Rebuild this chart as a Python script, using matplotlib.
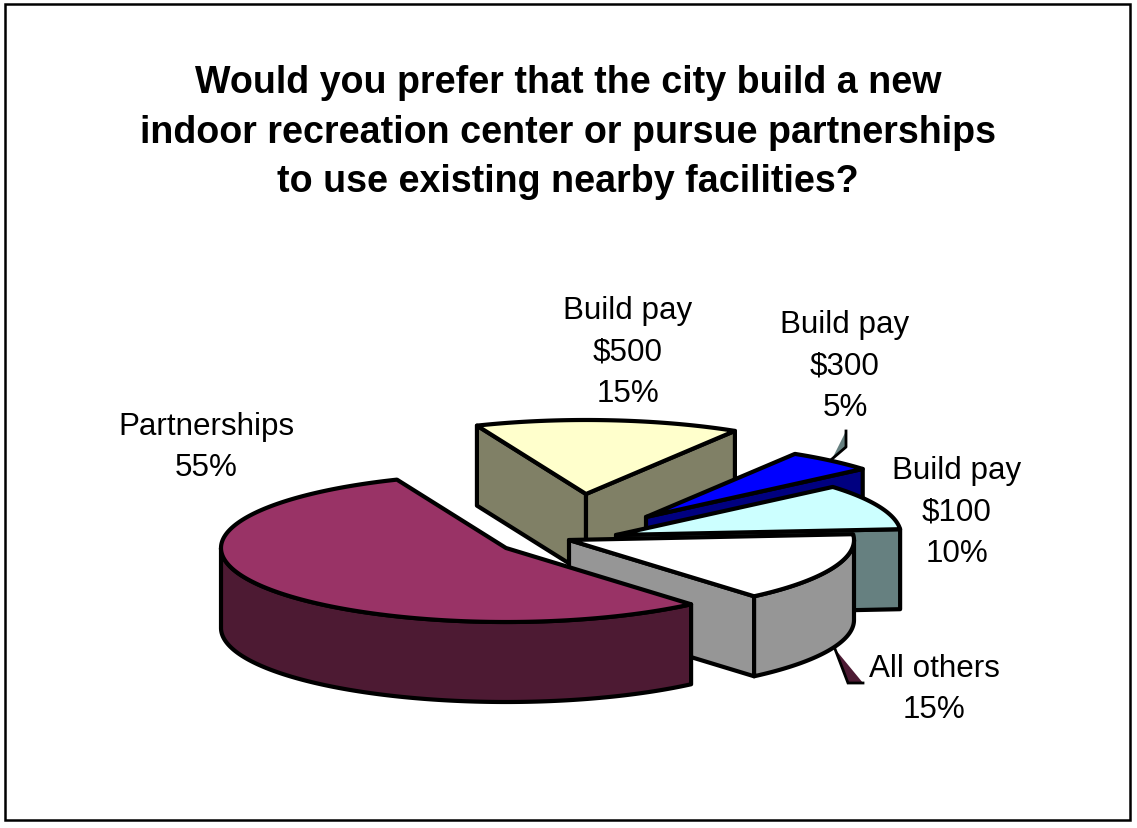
import numpy as np
import matplotlib
matplotlib.use("Agg")
import matplotlib.pyplot as plt
from matplotlib.patches import Polygon, Rectangle

plt.rcParams['font.family'] = ['Liberation Sans', 'DejaVu Sans']

# chart values, going counter-clockwise from the back of the pie
categories = ["Partnerships", "All others", "Build pay $100", "Build pay $300", "Build pay $500"]
values = [55, 15, 10, 5, 15]
title_lines = [
    "Would you prefer that the city build a new",
    "indoor recreation center or pursue partnerships",
    "to use existing nearby facilities?",
]

# styles
top_colors = ["#993366", "#FFFFFF", "#CCFFFF", "#0000FF", "#FFFFCC"]
side_colors = ["#4D1A33", "#969696", "#668080", "#000080", "#808066"]
explode = [(1, 0), (64, -8), (111, -13), (141, -31), (81, -54)]
draw_order = [4, 3, 2, 1, 0]
label_pos = [(206, 435), (934, 677), (957, 479), (845, 333), (628, 319)]

START_ANGLE = 112.5
CENTER = (505, 549)
RX, RY = 285, 74
DEPTH = 80
LW = 3.0

fig = plt.figure(figsize=(11.37, 8.29), dpi=100)
ax = fig.add_axes([0, 0, 1, 1])
ax.set_xlim(0, 1137)
ax.set_ylim(829, 0)
ax.axis('off')


def rim(cx, cy, a0, a1):
    t = np.radians(np.linspace(a0, a1, max(2, int(abs(a1 - a0)) * 2)))
    return np.column_stack([cx + RX * np.cos(t), cy - RY * np.sin(t)])


def extrude(pts):
    low = pts[::-1] + [0, DEPTH]
    return np.vstack([pts, low])


def draw_slice(i, a0, a1):
    cx = CENTER[0] + explode[i][0]
    cy = CENTER[1] + explode[i][1]
    apex = np.array([[cx, cy]])
    style = dict(facecolor=side_colors[i], edgecolor='black', linewidth=LW, joinstyle='round')

    # radial faces that look toward the viewer
    if np.cos(np.radians(a1)) < 0:
        ax.add_patch(Polygon(extrude(np.vstack([apex, rim(cx, cy, a1, a1)[:1]])), **style))
    if np.cos(np.radians(a0)) > 0:
        ax.add_patch(Polygon(extrude(np.vstack([apex, rim(cx, cy, a0, a0)[:1]])), **style))

    # outer wall, only the lower half of the ellipse shows
    lo, hi = max(a0, 180), min(a1, 360)
    if hi > lo:
        ax.add_patch(Polygon(extrude(rim(cx, cy, lo, hi)), **style))

    top = np.vstack([apex, rim(cx, cy, a0, a1)])
    ax.add_patch(Polygon(top, facecolor=top_colors[i], edgecolor='black', linewidth=LW, joinstyle='round'))


angles = START_ANGLE + np.concatenate([[0], np.cumsum(values)]) * 360 / sum(values)
for i in draw_order:
    draw_slice(i, angles[i], angles[i + 1])

# leader lines of the two small labels
ax.add_patch(Polygon([(846, 432), (846, 448), (832, 460)], facecolor="#668080", edgecolor='none'))
ax.plot([846, 846, 832], [432, 448, 460], color='black', lw=2.0)
ax.add_patch(Polygon([(835, 650), (848, 684), (863, 684)], facecolor="#4D1A33", edgecolor='none'))
ax.plot([835, 848, 863], [650, 684, 684], color='black', lw=2.0, solid_joinstyle='miter')

for line, y in zip(title_lines, [93, 143, 192]):
    ax.text(568, y, line, fontsize=27.1, fontweight='bold', ha='center', va='baseline', parse_math=False)

for i, cat in enumerate(categories):
    x, y = label_pos[i]
    if cat.startswith("Build pay"):
        lines = ["Build pay", cat.split()[-1], f"{values[i]}%"]
    else:
        lines = [cat, f"{values[i]}%"]
    for k, line in enumerate(lines):
        ax.text(x, y + k * 41.5, line, fontsize=22.6, ha='center', va='baseline', parse_math=False)

ax.add_patch(Rectangle((5, 5), 1125, 816, fill=False, edgecolor='black', linewidth=1.8))

fig.savefig("out.png", dpi=100)
